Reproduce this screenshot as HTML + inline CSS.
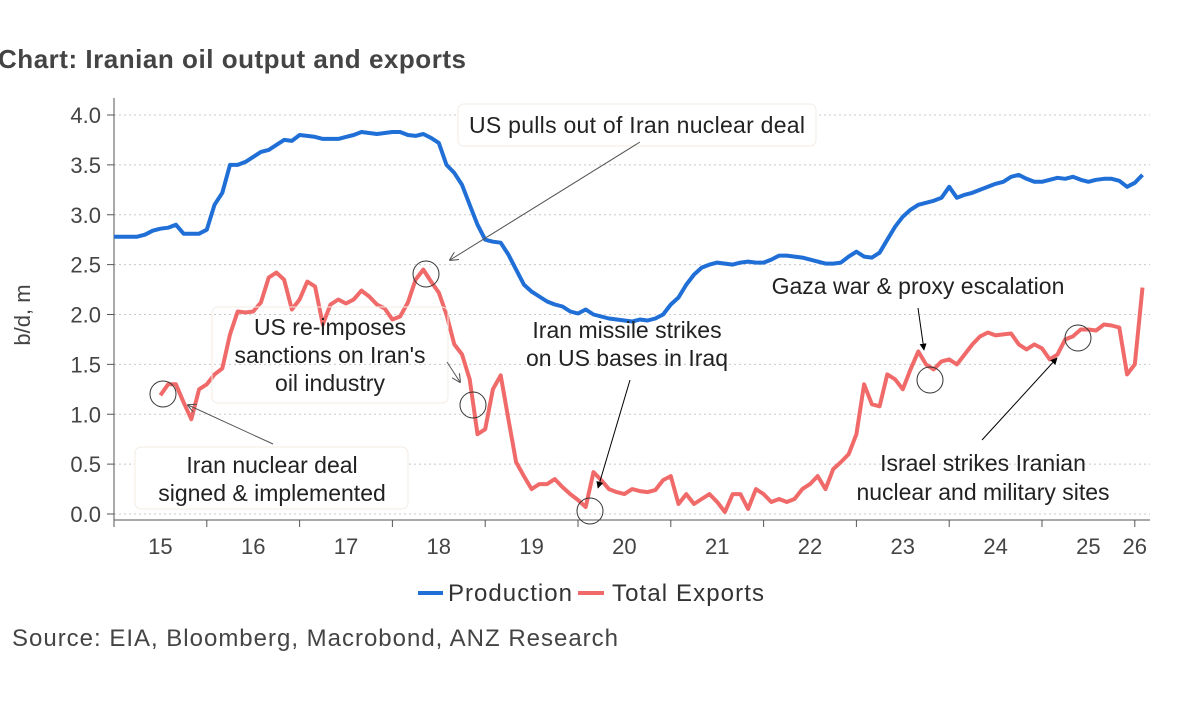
<!DOCTYPE html>
<html><head><meta charset="utf-8"><style>
body{margin:0;background:#fff;width:1179px;height:720px;overflow:hidden;font-family:"Liberation Sans",Arial,sans-serif}
svg text{font-family:"Liberation Sans",Arial,sans-serif}
</style></head><body>
<svg id="chart" width="1179" height="720" viewBox="0 0 1179 720">
<defs>
<marker id="ah-open" viewBox="0 0 10 10" refX="9" refY="5" markerWidth="9" markerHeight="9" orient="auto"><path d="M0,0 L10,5 L0,10" fill="none" stroke="#555" stroke-width="1.2"/></marker>
<marker id="ah-fill" viewBox="0 0 10 10" refX="9" refY="5" markerWidth="7" markerHeight="7" orient="auto"><path d="M0,0 L10,5 L0,10 z" fill="#000"/></marker>
</defs>
<text x="-2" y="68" font-size="26" font-weight="bold" fill="#444" textLength="468">Chart: Iranian oil output and exports</text>
<g id="grid"></g>
<g id="axes"></g>
<g id="series"></g>
<g id="annot">
<rect x="458" y="104" width="358" height="42" rx="6" fill="#fff" stroke="#f3ece6"/>
<text x="637" y="133" font-size="23" fill="#222" text-anchor="middle" textLength="336">US pulls out of Iran nuclear deal</text>
<rect x="212" y="307" width="236" height="96" rx="6" fill="none" stroke="#f3ece6"/>
<text font-size="23" fill="#222" text-anchor="middle"><tspan x="330" y="335">US re-imposes</tspan><tspan x="330" y="363">sanctions on Iran's</tspan><tspan x="330" y="391">oil industry</tspan></text>
<rect x="135" y="447" width="273" height="62" rx="6" fill="#fff" stroke="#f3ece6"/>
<text font-size="23" fill="#222" text-anchor="middle"><tspan x="272" y="473">Iran nuclear deal</tspan><tspan x="272" y="501">signed &amp; implemented</tspan></text>
<text font-size="23" fill="#222" text-anchor="middle"><tspan x="627" y="338">Iran missile strikes</tspan><tspan x="627" y="366">on US bases in Iraq</tspan></text>
<text x="918" y="294" font-size="23" fill="#222" text-anchor="middle">Gaza war &amp; proxy escalation</text>
<text font-size="23" fill="#222" text-anchor="middle"><tspan x="983" y="471">Israel strikes Iranian</tspan><tspan x="983" y="500">nuclear and military sites</tspan></text>
<line x1="640" y1="142" x2="450" y2="260" stroke="#555" stroke-width="1" marker-end="url(#ah-open)"/>
<line x1="273" y1="444" x2="188" y2="405" stroke="#555" stroke-width="1" marker-end="url(#ah-open)"/>
<line x1="447" y1="362" x2="460" y2="382" stroke="#555" stroke-width="1" marker-end="url(#ah-open)"/>
<line x1="630" y1="380" x2="598" y2="488" stroke="#000" stroke-width="1" marker-end="url(#ah-fill)"/>
<line x1="918" y1="308" x2="924" y2="350" stroke="#000" stroke-width="1" marker-end="url(#ah-fill)"/>
<line x1="982" y1="440" x2="1057" y2="358" stroke="#000" stroke-width="1" marker-end="url(#ah-fill)"/>
<g fill="none" stroke="#333" stroke-width="1">
<circle cx="163" cy="394" r="13"/>
<circle cx="426" cy="274" r="13"/>
<circle cx="473" cy="405" r="13"/>
<circle cx="590" cy="511" r="13"/>
<circle cx="930" cy="380" r="13"/>
<circle cx="1078" cy="338" r="13"/>
</g>
</g>
<g>
<line x1="418" y1="593" x2="443" y2="593" stroke="#1f6fd6" stroke-width="4"/>
<text x="448" y="601" font-size="24" fill="#333" textLength="124">Production</text>
<line x1="578" y1="593" x2="604" y2="593" stroke="#f06a6a" stroke-width="4"/>
<text x="612" y="601" font-size="24" fill="#333" textLength="152">Total Exports</text>
</g>
<text x="12" y="646" font-size="24" fill="#444" textLength="606">Source: EIA, Bloomberg, Macrobond, ANZ Research</text>
</svg>
<script>
const yTicks=[0,0.5,1,1.5,2,2.5,3,3.5,4];
const yearLabels=["15","16","17","18","19","20","21","22","23","24","25","26"];
const production=[2.78,2.78,2.78,2.78,2.8,2.84,2.86,2.87,2.9,2.81,2.81,2.81,
2.85,3.1,3.22,3.5,3.5,3.53,3.58,3.63,3.65,3.7,3.75,3.74,
3.8,3.79,3.78,3.76,3.76,3.76,3.78,3.8,3.83,3.82,3.81,3.82,
3.83,3.83,3.8,3.79,3.81,3.77,3.72,3.5,3.42,3.3,3.1,2.9,
2.75,2.73,2.72,2.6,2.45,2.3,2.23,2.18,2.13,2.1,2.08,2.03,
2.01,2.05,2.0,1.98,1.96,1.95,1.94,1.93,1.95,1.94,1.96,2.0,
2.1,2.17,2.3,2.4,2.47,2.5,2.52,2.51,2.5,2.52,2.53,2.52,
2.52,2.55,2.59,2.59,2.58,2.57,2.55,2.53,2.51,2.51,2.52,2.58,
2.63,2.58,2.57,2.62,2.75,2.88,2.98,3.05,3.1,3.12,3.14,3.17,
3.28,3.17,3.2,3.22,3.25,3.28,3.31,3.33,3.38,3.4,3.36,3.33,
3.33,3.35,3.37,3.36,3.38,3.35,3.33,3.35,3.36,3.36,3.34,3.28,
3.32,3.4];
const exportsData=[null,null,null,null,null,null,1.19,1.3,1.3,1.12,0.95,1.25,
1.3,1.4,1.46,1.8,2.03,2.02,2.03,2.12,2.37,2.42,2.35,2.05,
2.15,2.33,2.28,1.9,2.1,2.15,2.11,2.15,2.24,2.18,2.1,2.06,
1.95,1.98,2.12,2.35,2.45,2.33,2.22,2.0,1.7,1.6,1.35,0.8,
0.85,1.25,1.39,0.95,0.52,0.38,0.25,0.3,0.3,0.35,0.27,0.2,
0.14,0.07,0.42,0.34,0.25,0.22,0.2,0.25,0.23,0.22,0.24,0.34,
0.38,0.1,0.2,0.1,0.15,0.2,0.12,0.02,0.2,0.2,0.05,0.25,
0.2,0.12,0.15,0.12,0.15,0.25,0.3,0.38,0.25,0.45,0.52,0.6,
0.8,1.3,1.1,1.08,1.4,1.35,1.25,1.45,1.63,1.5,1.45,1.53,
1.55,1.5,1.6,1.7,1.78,1.82,1.79,1.8,1.81,1.7,1.65,1.7,
1.66,1.55,1.6,1.75,1.78,1.85,1.85,1.84,1.9,1.89,1.87,1.4,
1.5,2.27];
const NS='http://www.w3.org/2000/svg';
const X0=114,YEARW=92.8,Y0=514,YUNIT=99.75;
function xm(m){return X0+m*YEARW/12;}
function yv(v){return Y0-v*YUNIT;}
function mk(t,a,p){const e=document.createElementNS(NS,t);for(const k in a)e.setAttribute(k,a[k]);p.appendChild(e);return e;}
const grid=document.getElementById('grid'),axes=document.getElementById('axes'),ser=document.getElementById('series');
yTicks.forEach(v=>{
 const g=mk('line',{x1:114,x2:1150,y1:yv(v),y2:yv(v),stroke:'#c8c8c8','stroke-dasharray':'2,3','stroke-width':1},grid);
 
 
 const t=mk('line',{x1:107,x2:114,y1:yv(v),y2:yv(v),stroke:'#555'},axes);
 
 
 const l=mk('text',{x:101,y:yv(v)+8,'font-size':22,fill:'#444','text-anchor':'end'},axes);
 l.textContent=v.toFixed(1);
 
 
});
const ya=mk('line',{x1:114,x2:114,y1:98,y2:520,stroke:'#555'},axes);


const xa=mk('line',{x1:114,x2:1150,y1:520,y2:520,stroke:'#555'},axes);


yearLabels.forEach((lab,i)=>{
 const tx=xm(i*12);
 const t=mk('line',{x1:tx,x2:tx,y1:520,y2:527,stroke:'#555'},axes);
 
 
 const last=i===yearLabels.length-1;
 const l=mk('text',{x:last?tx:tx+YEARW/2,y:554,'font-size':22,fill:'#444','text-anchor':'middle'},axes);
 l.textContent=lab;
 
 
});
const yt=mk('text',{x:0,y:0,'font-size':22,fill:'#444','text-anchor':'middle',transform:'translate(30,315) rotate(-90)'},axes);
yt.textContent='b/d, m';


function path(arr){let d='',pen=false;arr.forEach((v,i)=>{if(v==null){pen=false;return;}d+=(pen?'L':'M')+xm(i).toFixed(1)+','+yv(v).toFixed(1);pen=true;});return d;}
const pp=mk('path',{d:path(production),fill:'none',stroke:'#1f6fd6','stroke-width':4,'stroke-linejoin':'round'},ser);


const ep=mk('path',{d:path(exportsData),fill:'none',stroke:'#f06a6a','stroke-width':4,'stroke-linejoin':'round'},ser);


</script>
</body></html>
